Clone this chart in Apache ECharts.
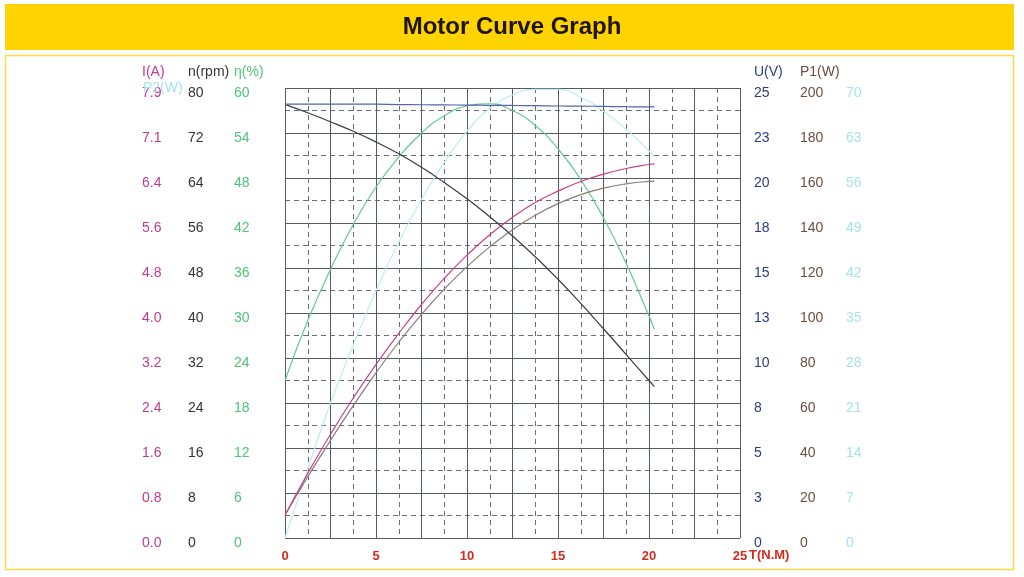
<!DOCTYPE html>
<html>
<head>
<meta charset="utf-8">
<title>Motor Curve Graph</title>
<script src="https://cdn.jsdelivr.net/npm/echarts/dist/echarts.min.js"></script>
<style>
    html, body { margin: 0; padding: 0; background: #fff; }
    #chart { width: 1024px; height: 577px; }
</style>
</head>
<body>
<div id="chart"></div>
<script>
// 转矩 T(N.M)
let torque = [0, 1.25, 2.5, 3.75, 5, 6.25, 7.5, 8.75, 10, 11.25, 12.5, 13.75, 15, 16.25, 17.5, 18.75, 20, 20.3];
// 各曲线数值
let voltage = [24.1, 24.1, 24.1, 24.1, 24.1, 24.08, 24.07, 24.06, 24.05, 24.04, 24.03, 24.02, 24.0, 23.99, 23.98, 23.96, 23.95, 23.95];
let speed = [77.1, 75.6, 74.0, 72.3, 70.4, 68.3, 65.9, 63.2, 60.3, 57.1, 53.7, 50.0, 46.0, 41.7, 37.2, 32.6, 28.0, 26.9];
let efficiency = [21.0, 29.0, 35.8, 41.8, 46.8, 50.8, 54.0, 56.3, 57.6, 57.9, 57.0, 55.0, 51.9, 47.8, 42.7, 36.6, 29.6, 27.8];
let outputPower = [0, 10.7, 21.0, 30.0, 38.5, 46.0, 52.7, 58.4, 63.3, 66.8, 68.9, 69.8, 69.8, 68.6, 66.4, 63.6, 60.2, 59.3];
let current = [0.40, 1.14, 1.83, 2.47, 3.06, 3.61, 4.12, 4.58, 4.99, 5.35, 5.66, 5.92, 6.12, 6.29, 6.42, 6.52, 6.59, 6.60];
let inputPower = [10.2, 27.2, 43.4, 58.8, 73.4, 87.0, 99.4, 110.6, 120.6, 129.4, 137.0, 143.4, 148.6, 152.6, 155.5, 157.4, 158.5, 158.6];

// 刻度标签
let xLabels = ['0', '5', '10', '15', '20', '25'];
let iLabels = ['0.0', '0.8', '1.6', '2.4', '3.2', '4.0', '4.8', '5.6', '6.4', '7.1', '7.9'];
let nLabels = ['0', '8', '16', '24', '32', '40', '48', '56', '64', '72', '80'];
let effLabels = ['0', '6', '12', '18', '24', '30', '36', '42', '48', '54', '60'];
let uLabels = ['0', '3', '5', '8', '10', '13', '15', '18', '20', '23', '25'];
let p1Labels = ['0', '20', '40', '60', '80', '100', '120', '140', '160', '180', '200'];
let p2Labels = ['0', '7', '14', '21', '28', '35', '42', '49', '56', '63', '70'];

let font = '"Liberation Sans", Arial, sans-serif';
let red = '#d42a1e';

//纵轴
let yAxis = (name, max, labels, color, position, offset) => {
    let step = max / 10;
    return {
        type: 'value',
        name: name,
        nameLocation: 'end',
        nameGap: 16,
        nameMoveOverlap: false,
        nameTextStyle: { color: color, fontSize: 14, fontFamily: font, align: 'left', verticalAlign: 'middle' },
        position: position,
        offset: offset,
        min: 0,
        max: max,
        interval: step,
        axisLine: { show: false },
        axisTick: { show: false },
        splitLine: { show: false },
        axisLabel: {
            color: color,
            fontSize: 14,
            fontFamily: font,
            margin: 0,
            align: 'left',
            verticalAlign: 'top',
            lineHeight: 10,
            formatter: (v) => labels[Math.round(v / step)]
        }
    };
};

let pairs = (ys) => torque.map((t, i) => [t, ys[i]]);

let line = (name, ys, axis, color) => ({
    name: name,
    type: 'line',
    yAxisIndex: axis,
    data: pairs(ys),
    smooth: true,
    showSymbol: false,
    lineStyle: { color: color, width: 1.2 },
    itemStyle: { color: color },
    z: 3
});

let nAxis = yAxis('n(rpm)', 80, nLabels, '#333333', 'left', 97);
nAxis.splitLine = { show: true, lineStyle: { color: '#555a60', width: 1 } };
nAxis.minorTick = { show: false, splitNumber: 2 };
nAxis.minorSplitLine = { show: true, lineStyle: { color: '#6a6e74', width: 1, type: [5, 4] } };

let option = {
    animation: false,
    backgroundColor: '#fff',
    title: {
        text: 'Motor Curve Graph',
        left: 'center',
        top: 10,
        textStyle: { color: '#1e1408', fontSize: 24, fontWeight: 'bold', fontFamily: font }
    },
    graphic: [
        { type: 'rect', z: -1, shape: { x: 5, y: 4, width: 1009, height: 46 }, style: { fill: '#ffd300' } },
        { type: 'rect', z: -1, shape: { x: 5.5, y: 55.5, width: 1008, height: 514 }, style: { fill: 'none', stroke: '#ffd84a', lineWidth: 1.5 } },
        { type: 'text', z: 10, left: 142, top: 65, style: { text: 'I(A)', fill: '#c2398c', font: '14px ' + font } },
        { type: 'text', z: 10, left: 143, top: 81, style: { text: 'P2(W)', fill: '#a6e2ee', font: '14px ' + font } },
        { type: 'text', z: 10, left: 749, top: 549, style: { text: 'T(N.M)', fill: red, font: 'bold 13px ' + font } }
    ],
    grid: { left: 285, right: 284, top: 88, bottom: 39 },
    xAxis: {
        type: 'value',
        min: 0,
        max: 25,
        interval: 2.5,
        axisLine: { show: false },
        axisTick: { show: false },
        axisLabel: {
            color: red,
            fontSize: 13,
            fontWeight: 'bold',
            fontFamily: font,
            margin: 12,
            formatter: (v) => (Math.abs(v % 5) < 1e-6 ? xLabels[Math.round(v / 5)] : '')
        },
        splitLine: { show: true, lineStyle: { color: '#555a60', width: 1 } },
        minorTick: { show: false, splitNumber: 2 },
        minorSplitLine: { show: true, lineStyle: { color: '#6a6e74', width: 1, type: [5, 4] } }
    },
    yAxis: [
        yAxis('', 7.94, iLabels, '#c2398c', 'left', 143),
        nAxis,
        yAxis('η(%)', 60, effLabels, '#4cc47a', 'left', 51),
        yAxis('U(V)', 25, uLabels, '#2e3a80', 'right', 14),
        yAxis('P1(W)', 200, p1Labels, '#6e4c42', 'right', 60),
        yAxis('', 70, p2Labels, '#a6e2ee', 'right', 106)
    ],
    series: [
        line('P2', outputPower, 5, '#bdecf4'),
        line('η', efficiency, 2, '#62c98e'),
        line('P1', inputPower, 4, '#8c7b74'),
        line('I', current, 0, '#c4428c'),
        line('n', speed, 1, '#3a3a46'),
        line('U', voltage, 3, '#5565a8')
    ]
};

let chart = echarts.init(document.getElementById('chart'));
chart.setOption(option);
</script>
</body>
</html>
